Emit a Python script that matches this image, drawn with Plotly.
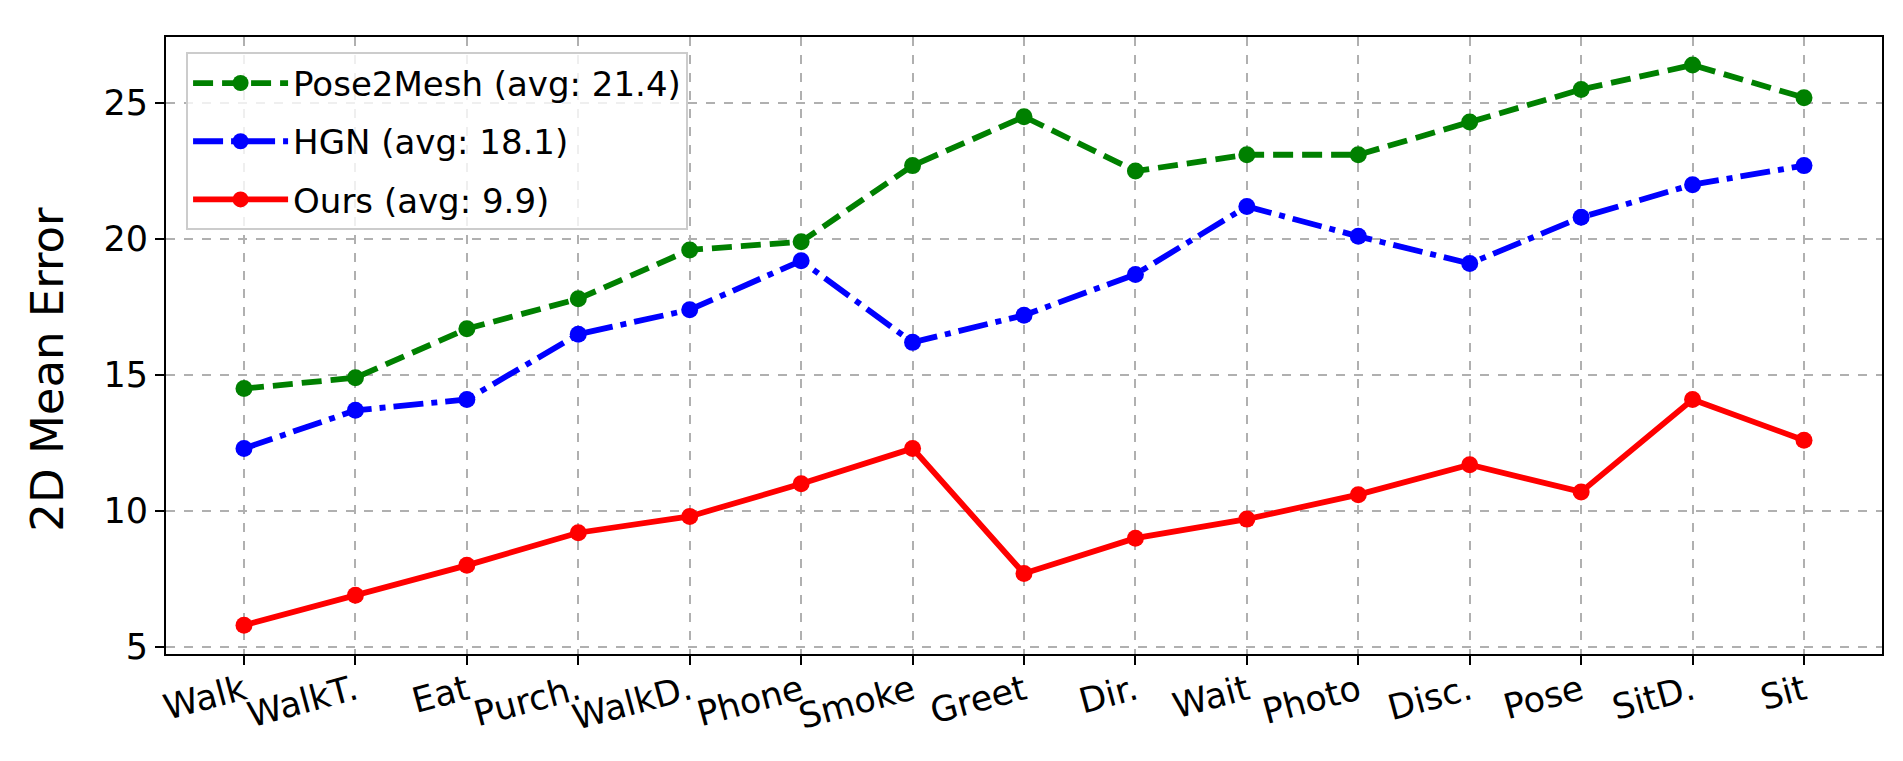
import plotly.graph_objects as go

categories = ["Walk", "WalkT.", "Eat", "Purch.", "WalkD.", "Phone", "Smoke", "Greet",
              "Dir.", "Wait", "Photo", "Disc.", "Pose", "SitD.", "Sit"]
pose2mesh = [14.5, 14.9, 16.7, 17.8, 19.6, 19.9, 22.7, 24.5, 22.5, 23.1, 23.1, 24.3, 25.5, 26.4, 25.2]
hgn = [12.3, 13.7, 14.1, 16.5, 17.4, 19.2, 16.2, 17.2, 18.7, 21.2, 20.1, 19.1, 20.8, 22.0, 22.7]
ours = [5.8, 6.9, 8.0, 9.2, 9.8, 11.0, 12.3, 7.7, 9.0, 9.7, 10.6, 11.7, 10.7, 14.1, 12.6]

series = [
    ("Pose2Mesh", pose2mesh, "green", "20px,9px"),
    ("HGN", hgn, "blue", "30px,8px,6px,8px"),
    ("Ours", ours, "red", "solid"),
]

FONT = "DejaVu Sans"
fig = go.Figure()
for i, (name, vals, color, dash) in enumerate(series):
    avg = sum(vals) / len(vals)
    fig.add_trace(go.Scatter(
        x=categories, y=vals, mode="lines+markers",
        name=f"{name} (avg: {avg:.1f})",
        legendgroup=f"g{i}",
        line=dict(color=color, width=5.8, dash=dash),
        marker=dict(color=color, size=17),
    ))

axis_common = dict(
    showline=True, linecolor="black", linewidth=2, mirror=True,
    ticks="outside", ticklen=9, tickwidth=2, tickcolor="black",
    showgrid=True, gridcolor="#b0b0b0", gridwidth=1.6, griddash="dash",
    zeroline=False,
    tickfont=dict(family=FONT, size=35, color="black"),
)

fig.update_layout(
    width=1903, height=761,
    margin=dict(l=158, r=29, t=29, b=115),
    plot_bgcolor="white", paper_bgcolor="white",
    font=dict(family=FONT, color="black"),
    xaxis=dict(**axis_common, range=[-0.7, 14.7], tickangle=-15, ticklabelstandoff=-8),
    yaxis=dict(**axis_common, range=[4.74, 27.43], tickvals=[5, 10, 15, 20, 25]),
    legend=dict(
        x=0.0117, y=0.975, xanchor="left", yanchor="top",
        bgcolor="rgba(255,255,255,0.8)", bordercolor="#cccccc", borderwidth=2,
        font=dict(family=FONT, size=34, color="black"),
        itemwidth=95, tracegroupgap=11,
    ),
    annotations=[dict(
        text="2D Mean Error", textangle=-90, showarrow=False,
        xref="paper", yref="paper", x=-0.0693, y=0.461,
        xanchor="center", yanchor="middle",
        font=dict(family=FONT, size=45, color="black"),
    )],
    showlegend=True,
)

fig.write_html("out.html")
